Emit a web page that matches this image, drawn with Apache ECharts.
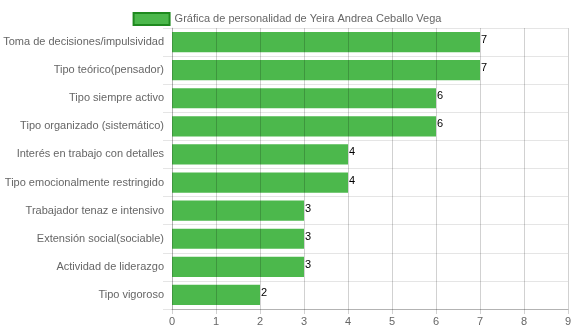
<!DOCTYPE html>
<html><head><meta charset="utf-8">
<script src="https://cdn.jsdelivr.net/npm/echarts@6/dist/echarts.min.js"></script>
<style>html,body{margin:0;padding:0;background:#fff}#c{width:574px;height:334px}</style>
</head><body><div id="c"></div>
<script>
const categories = ["Toma de decisiones/impulsividad","Tipo teórico(pensador)","Tipo siempre activo","Tipo organizado (sistemático)","Interés en trabajo con detalles","Tipo emocionalmente restringido","Trabajador tenaz e intensivo","Extensión social(sociable)","Actividad de liderazgo","Tipo vigoroso"];
const values = [7,7,6,6,4,4,3,3,3,2];
const seriesName = "Gráfica de personalidad de Yeira Andrea Ceballo Vega";
const xTicks = [0,1,2,3,4,5,6,7,8,9];

const chart = echarts.init(document.getElementById('c'), null, {renderer:'canvas'});
const font = '"Liberation Sans", Arial, Helvetica, sans-serif';
chart.setOption({
  animation:false,
  textStyle:{fontFamily:font},
  legend:{
    top:7, left:'center',
    itemWidth:36, itemHeight:12, itemGap:6,
    textStyle:{fontSize:11,color:'#666',fontFamily:font},
    data:[{name:seriesName, icon:'rect', itemStyle:{color:'#4cb84c',borderColor:'#1f8a1f',borderWidth:2}}]
  },
  grid:{left:172,right:6,top:28,bottom:25,containLabel:false,outerBoundsMode:'none'},
  xAxis:{
    type:'value', min:xTicks[0], max:xTicks[xTicks.length-1], interval:1,
    z:5,
    axisLine:{show:true,lineStyle:{color:'rgba(0,0,0,0.22)'}},
    axisTick:{show:true,length:5,lineStyle:{color:'rgba(0,0,0,0.18)'}},
    axisLabel:{color:'#666',fontSize:11,margin:7,fontFamily:font},
    splitLine:{show:true,lineStyle:{color:'rgba(0,0,0,0.18)'}}
  },
  yAxis:{
    type:'category', data:categories, inverse:true,
    axisLine:{show:true,lineStyle:{color:'rgba(0,0,0,0.15)'}},
    axisTick:{show:true,length:9,alignWithLabel:false,lineStyle:{color:'rgba(0,0,0,0.1)'}},
    axisLabel:{color:'#666',fontSize:11,margin:8,fontFamily:font},
    splitLine:{show:true,lineStyle:{color:'rgba(0,0,0,0.1)'}}
  },
  series:[{
    name:seriesName, type:'bar', data:values,
    barCategoryGap:'28%',
    itemStyle:{color:'#4cb84c'},
    label:{show:true,position:'right',distance:1,offset:[0,-2],color:'#000',fontSize:11,fontFamily:font}
  }]
});
</script></body></html>
